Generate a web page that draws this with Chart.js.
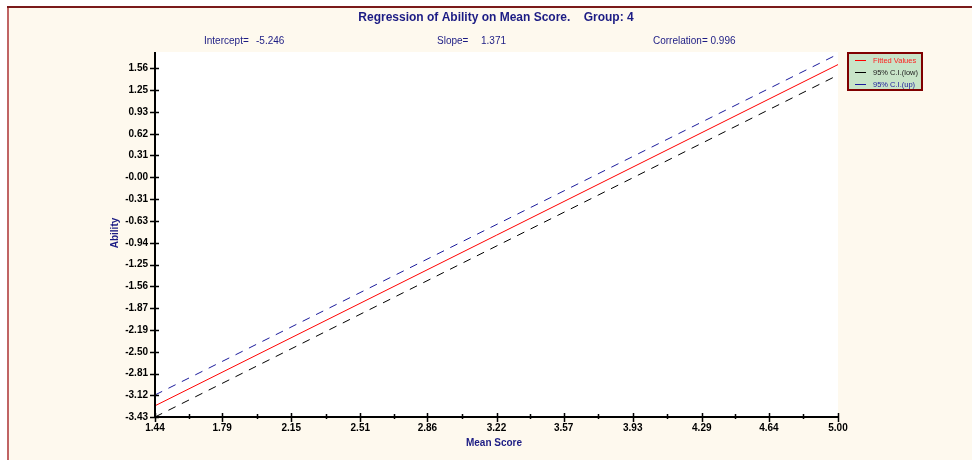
<!DOCTYPE html>
<html>
<head>
<meta charset="utf-8">
<script src="https://cdn.jsdelivr.net/npm/chart.js@4.4.0/dist/chart.umd.min.js"></script>
<style>
  html, body { margin: 0; padding: 0; background: #ffffff; }
  canvas { display: block; }
</style>
</head>
<body>
<canvas id="regChart" width="972" height="460"></canvas>
<script>
    /* --------------- Data ------------------------------------------ */
    const xRange = [1.44, 5.00];
    const yRange = [-3.43, 1.79];
    const xTicks = [1.44, 1.79, 2.15, 2.51, 2.86, 3.22, 3.57, 3.93, 4.29, 4.64, 5.00];
    const yTicks = [-3.43, -3.12, -2.81, -2.50, -2.19, -1.87, -1.56, -1.25, -0.94, -0.63, -0.31, 0, 0.31, 0.62, 0.93, 1.25, 1.56];
    const yTickLabels = ["-3.43", "-3.12", "-2.81", "-2.50", "-2.19", "-1.87", "-1.56", "-1.25", "-0.94", "-0.63", "-0.31", "-0.00", "0.31", "0.62", "0.93", "1.25", "1.56"];

    const meanScore = [1.44, 5.00];
    const fittedValues = [-3.27, 1.61];
    const ciLow = [-3.43, 1.46];
    const ciUp = [-3.115, 1.76];

    const intercept = "-5.246";
    const slope = "1.371";
    const correlation = "0.996";

    const navy = "#1c1c84";
    const font = "'Liberation Sans', Arial, sans-serif";

    const toPoints = (ys) => meanScore.map((x, i) => ({ x: x, y: ys[i] }));

    /* --------------- Frame, title, plot background --------------------- */
    const framePlugin = {
      id: "frame",
      beforeDraw(chart) {
        const ctx = chart.ctx;
        const a = chart.chartArea;
        ctx.save();
        ctx.fillStyle = "#ffffff";
        ctx.fillRect(0, 0, chart.width, chart.height);
        ctx.fillStyle = "#fef9ee";
        ctx.fillRect(8, 7, chart.width - 8, chart.height - 7);
        ctx.fillStyle = "#ffffff";
        ctx.fillRect(a.left, a.top, a.right - a.left, a.bottom - a.top);
        // border lines
        ctx.strokeStyle = "#c06464";
        ctx.lineWidth = 2;
        ctx.beginPath();
        ctx.moveTo(8, 7);
        ctx.lineTo(8, chart.height);
        ctx.stroke();
        ctx.strokeStyle = "#7a1a1a";
        ctx.beginPath();
        ctx.moveTo(7, 7);
        ctx.lineTo(chart.width, 7);
        ctx.stroke();
        // title and stats
        ctx.fillStyle = navy;
        ctx.textBaseline = "middle";
        ctx.textAlign = "center";
        ctx.font = "bold 12px " + font;
        ctx.fillText("Regression of Ability on Mean Score.    Group: 4", 496, 18);
        ctx.textAlign = "left";
        ctx.font = "10px " + font;
        ctx.fillText("Intercept=", 204, 41);
        ctx.fillText(intercept, 256, 41);
        ctx.fillText("Slope=", 437, 41);
        ctx.fillText(slope, 481, 41);
        ctx.fillText("Correlation= " + correlation, 653, 41);
        // axis titles
        ctx.font = "bold 10px " + font;
        ctx.textAlign = "center";
        ctx.fillText("Mean Score", 494, 443);
        ctx.save();
        ctx.translate(115, 233);
        ctx.rotate(-Math.PI / 2);
        ctx.fillText("Ability", 0, 0);
        ctx.restore();
        ctx.restore();
      },
      afterDraw(chart) {
        const ctx = chart.ctx;
        const a = chart.chartArea;
        const xs = chart.scales.x;
        const ys = chart.scales.y;
        ctx.save();
        ctx.strokeStyle = "#000000";
        ctx.lineWidth = 2;
        ctx.beginPath();
        ctx.moveTo(a.left, a.top);
        ctx.lineTo(a.left, a.bottom);
        ctx.lineTo(a.right, a.bottom);
        ctx.stroke();
        ctx.lineWidth = 1.5;
        ctx.beginPath();
        yTicks.forEach((v) => {
          const py = Math.round(ys.getPixelForValue(v)) + 0.5;
          ctx.moveTo(a.left - 5, py);
          ctx.lineTo(a.left + 4, py);
        });
        xTicks.forEach((v, i) => {
          const px = Math.round(xs.getPixelForValue(v)) + 0.5;
          ctx.moveTo(px, a.bottom - 4);
          ctx.lineTo(px, a.bottom + 5);
          if (i < xTicks.length - 1) {
            const mx = Math.round(xs.getPixelForValue((v + xTicks[i + 1]) / 2)) + 0.5;
            ctx.moveTo(mx, a.bottom - 3);
            ctx.lineTo(mx, a.bottom + 2);
          }
        });
        ctx.stroke();
        // legend box
        ctx.fillStyle = "#c8e4c8";
        ctx.fillRect(848, 53, 74, 37);
        ctx.strokeStyle = "#800000";
        ctx.lineWidth = 2;
        ctx.strokeRect(848, 53, 74, 37);
        const items = [
          ["Fitted Values", "#ff0000", "#ff2020"],
          ["95% C.I.(low)", "#000000", "#202020"],
          ["95% C.I.(up)", "#1c1c9c", "#1c1c9c"],
        ];
        ctx.font = "7.5px " + font;
        ctx.textAlign = "left";
        ctx.textBaseline = "middle";
        ctx.lineWidth = 1;
        items.forEach((it, i) => {
          const py = 60.5 + i * 12;
          ctx.strokeStyle = it[1];
          ctx.beginPath();
          ctx.moveTo(855, py);
          ctx.lineTo(866, py);
          ctx.stroke();
          ctx.fillStyle = it[2];
          ctx.fillText(it[0], 873, py);
        });
        ctx.restore();
      },
    };

    /* --------------- Chart --------------------- */
    let regChart = new Chart(document.getElementById("regChart"), {
      type: "line",
      plugins: [framePlugin],
      data: {
        datasets: [
          {
            label: "Fitted Values",
            data: toPoints(fittedValues),
            borderColor: "#ff0000",
            borderWidth: 1,
            pointRadius: 0,
          },
          {
            label: "95% C.I.(low)",
            data: toPoints(ciLow),
            borderColor: "#000000",
            borderWidth: 1,
            borderDash: [8, 7],
            pointRadius: 0,
          },
          {
            label: "95% C.I.(up)",
            data: toPoints(ciUp),
            borderColor: "#1c1c9c",
            borderWidth: 1,
            borderDash: [8, 7],
            pointRadius: 0,
          },
        ],
      },
      options: {
        responsive: false,
        animation: false,
        layout: { padding: { left: 0, top: 52, right: 134, bottom: 13 } },
        plugins: {
          legend: { display: false },
          tooltip: { enabled: false },
        },
        scales: {
          x: {
            type: "linear",
            min: xRange[0],
            max: xRange[1],
            afterBuildTicks: (s) => { s.ticks = xTicks.map((v) => ({ value: v })); },
            afterFit: (s) => { s.height = 30; },
            grid: { display: false },
            border: { display: false },
            ticks: {
              padding: -3,
              color: "#000000",
              font: { family: font, size: 10, weight: "bold" },
              maxRotation: 0,
              callback: (v) => Number(v).toFixed(2),
            },
          },
          y: {
            type: "linear",
            min: yRange[0],
            max: yRange[1],
            afterBuildTicks: (s) => { s.ticks = yTicks.map((v) => ({ value: v })); },
            afterFit: (s) => { s.width = 155; },
            grid: { display: false },
            border: { display: false },
            ticks: {
              padding: -1,
              color: "#000000",
              font: { family: font, size: 10, weight: "bold" },
              callback: (v, i) => yTickLabels[i],
            },
          },
        },
      },
    });
</script>
</body>
</html>
